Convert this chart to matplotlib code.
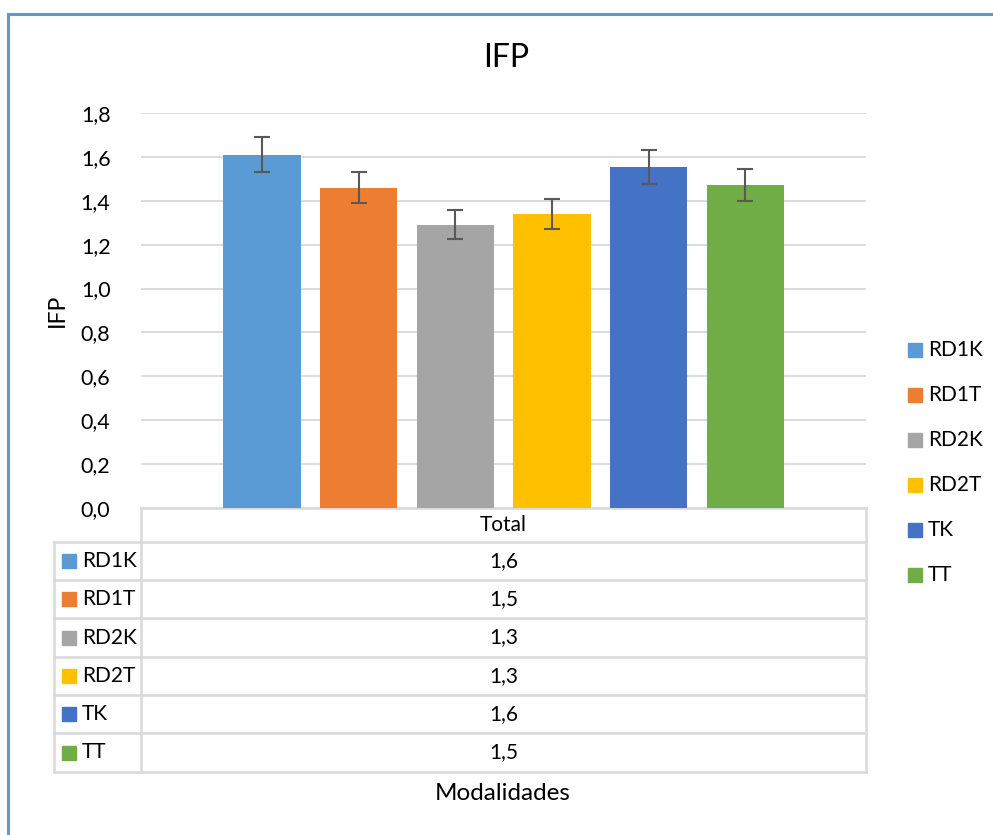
import numpy as np
import matplotlib.pyplot as plt
from matplotlib.patches import Rectangle

plt.rcParams['font.family'] = ['Lato', 'DejaVu Sans']

# data
series = ['RD1K', 'RD1T', 'RD2K', 'RD2T', 'TK', 'TT']
means = [1.61, 1.46, 1.29, 1.34, 1.555, 1.47]
errors = [0.08, 0.072, 0.066, 0.067, 0.078, 0.073]
colors = ['#5b9bd5', '#ed7d31', '#a5a5a5', '#ffc000', '#4472c4', '#70ad47']
category = 'Total'
yticks = np.arange(0, 1.81, 0.2)

W, H = 993, 835
fig = plt.figure(figsize=(W / 100, H / 100), dpi=100)

# plot area in pixels: x 141..866, y 113..508
px_l, px_r, px_t, px_b = 141, 866, 113, 508
ax = fig.add_axes([px_l / W, 1 - px_b / H, (px_r - px_l) / W, (px_b - px_t) / H])

x = np.arange(len(series))
ax.bar(x, means, width=0.8, color=colors, zorder=2)
ax.errorbar(x, means, yerr=errors, fmt='none', ecolor='#595959',
            elinewidth=1.5, capsize=5.5, capthick=1.5, zorder=3)
ax.set_xlim(-1.25, len(series) + 0.25)
ax.set_ylim(0, 1.8)
ax.set_yticks(yticks)
ax.set_yticklabels(['{:.1f}'.format(t).replace('.', ',') for t in yticks],
                   fontsize=15.5)
ax.tick_params(axis='y', length=0, pad=22)
ax.set_xticks([])
ax.grid(axis='y', color='#d9d9d9', lw=1.3, zorder=0)
for s in ax.spines.values():
    s.set_visible(False)
ax.set_ylabel('IFP', fontsize=16.5)
ax.yaxis.set_label_coords(-(px_l - 68) / (px_r - px_l), 0.5)

# overlay in pixel coordinates for the data table, legend and frame
ov = fig.add_axes([0, 0, 1, 1], zorder=-1)
ov.set_xlim(0, W)
ov.set_ylim(H, 0)
ov.axis('off')

gc = '#d9d9d9'
rows = [508, 542, 580, 618, 657, 695, 733, 772]
col_l, col_m, col_r = 54, px_l, px_r
ov.plot([col_m, col_r], [rows[0], rows[0]], color=gc, lw=1.8)
for r in rows[1:]:
    ov.plot([col_l, col_r], [r, r], color=gc, lw=1.8)
ov.plot([col_l, col_l], [rows[1], rows[-1]], color=gc, lw=1.8)
ov.plot([col_m, col_m], [rows[0], rows[-1]], color=gc, lw=1.8)
ov.plot([col_r, col_r], [rows[0], rows[-1]], color=gc, lw=1.8)

ov.text((col_m + col_r) / 2, (rows[0] + rows[1]) / 2, category,
        ha='center', va='center', fontsize=15)
for i, (name, m, c) in enumerate(zip(series, means, colors)):
    yc = (rows[i + 1] + rows[i + 2]) / 2
    ov.add_patch(Rectangle((62, yc - 7), 14, 14, color=c))
    ov.text(82, yc, name, ha='left', va='center', fontsize=15)
    ov.text((col_m + col_r) / 2, yc, '{:.1f}'.format(m).replace('.', ','),
            ha='center', va='center', fontsize=15)

# legend on the right
for i, (name, c) in enumerate(zip(series, colors)):
    yc = 350 + 45 * i
    ov.add_patch(Rectangle((908, yc - 7), 14, 14, color=c))
    ov.text(928, yc, name, ha='left', va='center', fontsize=15)

ov.text(506, 58, 'IFP', ha='center', va='center', fontsize=23)
ov.text(503, 793, 'Modalidades', ha='center', va='center', fontsize=17.5)

# chart frame
ov.plot([8, W], [14, 14], color='#5b9bd5', lw=2.2)
ov.plot([8, 8], [14, H], color='#5b9bd5', lw=2.2)

fig.savefig('out.png', dpi=100)
